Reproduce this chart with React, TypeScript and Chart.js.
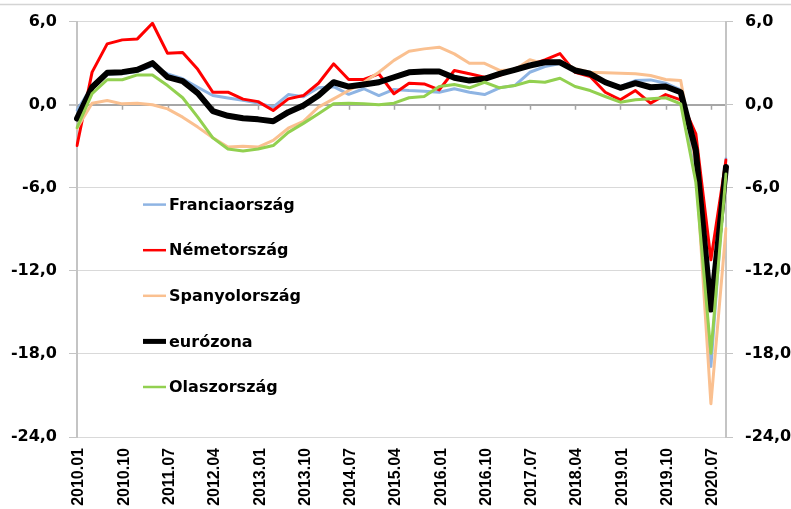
import React, { useEffect, useRef } from 'react';
import { Chart, registerables } from 'chart.js';

Chart.register(...registerables);

// Categories (quarters)
const quarters = [
  '2010.01', '2010.04', '2010.07', '2010.10',
  '2011.01', '2011.04', '2011.07', '2011.10',
  '2012.01', '2012.04', '2012.07', '2012.10',
  '2013.01', '2013.04', '2013.07', '2013.10',
  '2014.01', '2014.04', '2014.07', '2014.10',
  '2015.01', '2015.04', '2015.07', '2015.10',
  '2016.01', '2016.04', '2016.07', '2016.10',
  '2017.01', '2017.04', '2017.07', '2017.10',
  '2018.01', '2018.04', '2018.07', '2018.10',
  '2019.01', '2019.04', '2019.07', '2019.10',
  '2020.01', '2020.04', '2020.07', '2020.10',
];

// Series values
const franciaorszag = [
  -0.4, 1.3, 2.2, 2.25, 2.4, 2.83, 2.23, 1.87, 1.26, 0.66, 0.48, 0.32,
  0.12, -0.18, 0.73, 0.57, 1.22, 1.3, 0.75, 1.15, 0.66, 1.1, 1.02, 0.97,
  0.9, 1.15, 0.9, 0.73, 1.22, 1.38, 2.34, 2.75, 2.98, 2.47, 2.18, 1.62,
  1.31, 1.74, 1.79, 1.55, 1.07, -4.6, -18.9, -3.9,
];
const nemetorszag = [
  -2.95, 2.35, 4.39, 4.68, 4.75, 5.88, 3.71, 3.76, 2.55, 0.9, 0.9, 0.4,
  0.22, -0.42, 0.42, 0.66, 1.55, 2.95, 1.82, 1.82, 2.23, 0.79, 1.55, 1.5,
  1.07, 2.47, 2.23, 1.98, 2.11, 2.59, 2.88, 3.24, 3.69, 2.34, 2.03, 0.9,
  0.35, 1.02, 0.11, 0.73, 0.35, -2.1, -11.2, -4.0,
];
const spanyolorszag = [
  -1.7, 0.11, 0.3, 0.06, 0.11, -0.01, -0.3, -0.9, -1.62, -2.39, -3.06, -3.01,
  -3.06, -2.58, -1.7, -1.2, -0.18, 0.42, 1.02, 1.62, 2.34, 3.2, 3.86, 4.03,
  4.15, 3.67, 2.99, 2.99, 2.47, 2.52, 3.24, 2.95, 3.19, 2.59, 2.34, 2.3,
  2.27, 2.23, 2.11, 1.82, 1.74, -4.3, -21.6, -8.95,
];
const eurozona = [
  -1.0, 1.26, 2.3, 2.35, 2.52, 3.0, 1.99, 1.7, 0.83, -0.47, -0.8, -0.98,
  -1.06, -1.2, -0.54, -0.06, 0.66, 1.62, 1.31, 1.46, 1.62, 1.98, 2.34, 2.39,
  2.39, 1.94, 1.74, 1.87, 2.23, 2.52, 2.83, 3.06, 3.06, 2.47, 2.23, 1.62,
  1.22, 1.55, 1.26, 1.31, 0.9, -3.3, -14.8, -4.5,
];
const olaszorszag = [
  -1.65, 0.8, 1.8, 1.8, 2.15, 2.15, 1.38, 0.5, -0.9, -2.4, -3.2, -3.35,
  -3.2, -2.95, -2.0, -1.35, -0.66, 0.06, 0.11, 0.06, -0.01, 0.11, 0.5, 0.59,
  1.31, 1.46, 1.22, 1.62, 1.22, 1.38, 1.69, 1.62, 1.91, 1.31, 1.02, 0.59,
  0.18, 0.35, 0.42, 0.5, 0.06, -5.6, -17.96, -5.0,
];

const seriesNames = ['Franciaország', 'Németország', 'Spanyolország', 'eurózona', 'Olaszország'];
const seriesData = [franciaorszag, nemetorszag, spanyolorszag, eurozona, olaszorszag];
const seriesColors = ['#8EB4E3', '#FF0000', '#FAC090', '#000000', '#92D050'];
const seriesWidths = [3, 3, 3, 6, 3];

const Y_MIN = -24;
const Y_MAX = 6;
const Y_STEP = 6;
const LABEL_EVERY = 3;

const fmt = (v: number) => v.toFixed(1).replace('.', ',');

const frameLine = {
  id: 'frameLine',
  beforeDraw(chart: any) {
    const { ctx, width } = chart;
    ctx.save();
    ctx.strokeStyle = '#d4d4d4';
    ctx.lineWidth = 1.5;
    ctx.beginPath();
    ctx.moveTo(0, 4.5);
    ctx.lineTo(width, 4.5);
    ctx.stroke();
    ctx.restore();
  },
};

const zeroTicks = {
  id: 'zeroTicks',
  beforeDatasetsDraw(chart: any) {
    const { ctx } = chart;
    const xs = chart.scales.x;
    const ys = chart.scales.y;
    const y0 = ys.getPixelForValue(0);
    ctx.save();
    ctx.strokeStyle = '#a6a6a6';
    ctx.lineWidth = 1.5;
    ctx.beginPath();
    for (let i = 0; i < quarters.length; i += LABEL_EVERY) {
      const px = Math.round(xs.getPixelForValue(i)) + 0.5;
      ctx.moveTo(px, y0);
      ctx.lineTo(px, y0 + 5);
    }
    ctx.stroke();
    ctx.restore();
  },
};

const sideLegend = {
  id: 'sideLegend',
  afterDraw(chart: any) {
    const { ctx, chartArea } = chart;
    ctx.save();
    ctx.font = 'bold 16px "DejaVu Sans"';
    ctx.textBaseline = 'middle';
    ctx.textAlign = 'left';
    const x0 = chartArea.left + 66;
    chart.data.datasets.forEach((ds: any, i: number) => {
      const y = chartArea.top + 183 + i * 45.6;
      ctx.strokeStyle = ds.borderColor;
      ctx.lineWidth = i === 3 ? 5 : 2.5;
      ctx.beginPath();
      ctx.moveTo(x0, y);
      ctx.lineTo(x0 + 23, y);
      ctx.stroke();
      ctx.fillStyle = '#000';
      ctx.fillText(ds.label, x0 + 26, y + 1);
    });
    ctx.restore();
  },
};

export default function App() {
  const ref = useRef<HTMLCanvasElement>(null);

  useEffect(() => {
    if (!ref.current) return;
    const tickFont = { family: '"DejaVu Sans"', size: 16, weight: 'bold' as const };
    const chart = new Chart(ref.current, {
      type: 'line',
      data: {
        labels: quarters,
        datasets: seriesNames.map((name, i) => ({
          label: name,
          data: seriesData[i],
          borderColor: seriesColors[i],
          backgroundColor: seriesColors[i],
          borderWidth: seriesWidths[i],
          pointRadius: 0,
          tension: 0,
          borderJoinStyle: 'round' as const,
          borderCapStyle: 'round' as const,
          fill: false,
          order: seriesNames.length - i,
          yAxisID: 'y',
        })),
      },
      options: {
        responsive: false,
        animation: false,
        events: [],
        layout: { padding: { top: 21, left: 0, right: 0, bottom: 0 } },
        plugins: {
          legend: { display: false },
          tooltip: { enabled: false },
          title: { display: false },
        },
        scales: {
          x: {
            type: 'category',
            offset: false,
            grid: { display: false, drawTicks: false },
            border: { display: false },
            ticks: {
              autoSkip: false,
              minRotation: 90,
              maxRotation: 90,
              padding: 11,
              labelOffset: 2,
              color: '#000',
              font: { family: '"Liberation Sans"', size: 16, weight: 'bold' },
              callback: (_v: any, index: number) => (index % LABEL_EVERY === 0 ? quarters[index] : null),
            },
            afterFit: (s: any) => { s.height = 72; },
          },
          y: {
            position: 'left',
            min: Y_MIN,
            max: Y_MAX,
            grid: {
              color: (c: any) => (c.tick && c.tick.value === 0 ? '#a6a6a6' : '#d9d9d9'),
              lineWidth: (c: any) => (c.tick && c.tick.value === 0 ? 2 : 1),
              tickColor: '#c4c4c4',
              tickLength: 8,
              drawTicks: true,
            },
            border: { display: true, color: '#c4c4c4', width: 2 },
            ticks: {
              stepSize: Y_STEP,
              padding: 12,
              color: '#000',
              font: tickFont,
              callback: (v: any) => fmt(Number(v)),
            },
            afterFit: (s: any) => { s.width = 77; },
          },
          y2: {
            position: 'right',
            min: Y_MIN,
            max: Y_MAX,
            grid: { drawOnChartArea: false, tickColor: '#c4c4c4', tickLength: 7, drawTicks: true },
            border: { display: true, color: '#c4c4c4', width: 2 },
            ticks: {
              stepSize: Y_STEP,
              padding: 12,
              color: '#000',
              font: tickFont,
              callback: (v: any) => fmt(Number(v)),
            },
            afterFit: (s: any) => { s.width = 65; },
          },
        },
      },
      plugins: [frameLine, zeroTicks, sideLegend],
    });
    return () => chart.destroy();
  }, []);

  return (
    <div style={{ position: 'absolute', left: 0, top: 0, width: 791, height: 509, background: '#fff', overflow: 'hidden' }}>
      <canvas ref={ref} width={791} height={509} style={{ display: 'block' }} />
    </div>
  );
}
